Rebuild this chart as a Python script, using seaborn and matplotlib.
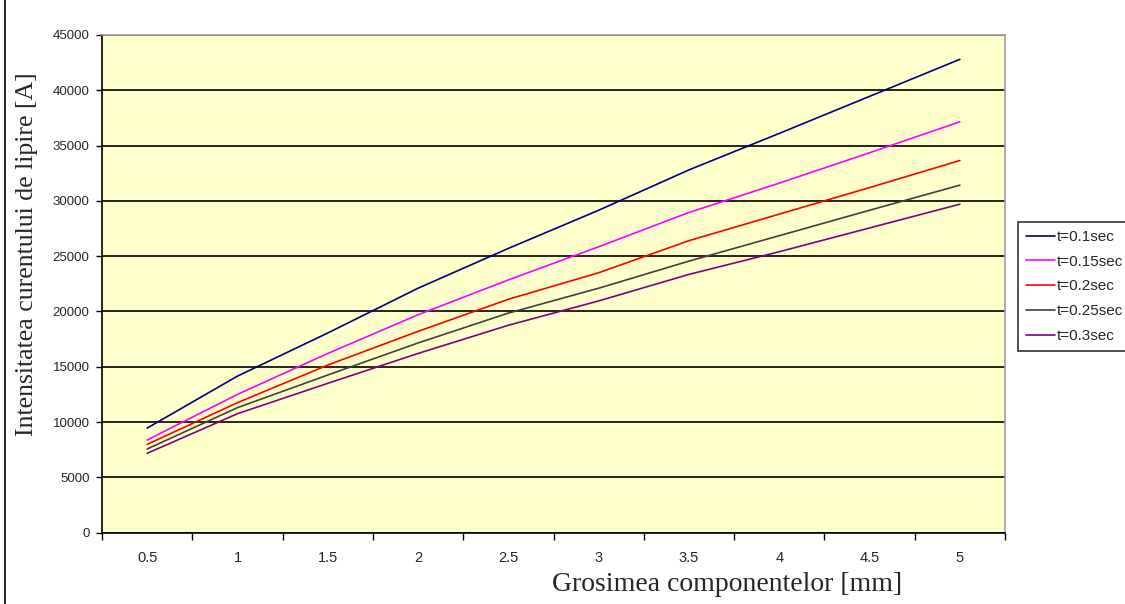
import numpy as np
import pandas as pd
import matplotlib
matplotlib.use("Agg")
import matplotlib.pyplot as plt
from matplotlib.lines import Line2D
import seaborn as sns

# --- datele ---
grosime = ["0.5", "1", "1.5", "2", "2.5", "3", "3.5", "4", "4.5", "5"]
serii = ["t=0.1sec", "t=0.15sec", "t=0.2sec", "t=0.25sec", "t=0.3sec"]
i_t01 = [9450, 14150, 18050, 22100, 25700, 29150, 32800, 36100, 39450, 42800]
i_t015 = [8370, 12500, 16200, 19700, 22850, 25850, 28950, 31600, 34350, 37150]
i_t02 = [7980, 11750, 15150, 18200, 21100, 23500, 26400, 28800, 31200, 33650]
i_t025 = [7560, 11300, 14250, 17150, 19850, 22100, 24550, 26850, 29150, 31420]
i_t03 = [7170, 10750, 13500, 16200, 18750, 20950, 23350, 25400, 27550, 29700]
culori = ["#000080", "#FF00FF", "#FF0000", "#404040", "#800080"]
y_ticks = list(range(0, 45001, 5000))

# ==============================================================================
# STIL
# ==============================================================================
sns.set_theme(style="white")
plt.rcParams["font.family"] = ["Liberation Sans", "DejaVu Sans"]

pos = np.arange(len(grosime))
df = pd.DataFrame({
    "pos": np.tile(pos, len(serii)),
    "serie": np.repeat(serii, len(grosime)),
    "curent": i_t01 + i_t015 + i_t02 + i_t025 + i_t03,
})

fig = plt.figure(figsize=(11.25, 6.04), dpi=100)
fig.patch.set_facecolor("white")
ax = fig.add_axes([102 / 1125, 1 - 532.6 / 604, 903 / 1125, 497.6 / 604])
ax.set_facecolor("#FFFFCC")

paleta = dict(zip(serii, culori))
sns.lineplot(data=df, x="pos", y="curent", hue="serie", hue_order=serii,
             palette=paleta, linewidth=1.2, ax=ax, legend=False)

# axa y
ax.set_ylim(0, 45000)
ax.set_yticks(y_ticks)
ax.set_yticklabels([str(v) for v in y_ticks], fontsize=9.5)
ax.tick_params(axis="y", which="major", direction="out", length=4,
               width=1, color="black", pad=5, left=True)
ax.yaxis.grid(True, color="black", linewidth=1.2)
ax.set_axisbelow(True)

# axa x (categorii, cu semne intre categorii)
ax.set_xlim(-0.5, len(grosime) - 0.5)
ax.set_xticks(np.arange(-0.5, len(grosime), 1.0))
ax.set_xticklabels([])
ax.set_xticks(pos, minor=True)
ax.set_xticklabels(grosime, minor=True, fontsize=10.5)
ax.tick_params(axis="x", which="major", direction="out", length=5,
               width=1, color="black", bottom=True)
ax.tick_params(axis="x", which="minor", length=0, pad=13, bottom=True)
ax.xaxis.grid(False)

for s in ["left", "bottom"]:
    ax.spines[s].set_color("black")
    ax.spines[s].set_linewidth(1.2)
for s in ["top", "right"]:
    ax.spines[s].set_color("#A0A0A0")
    ax.spines[s].set_linewidth(1.2)

ax.set_xlabel("Grosimea componentelor [mm]", family="Liberation Serif", fontsize=20)
ax.xaxis.set_label_coords(0.692, -0.079)
ax.set_ylabel("Intensitatea curentului de lipire [A]", family="Liberation Serif", fontsize=18.5)
ax.yaxis.set_label_coords(-0.071, 0.56)

handles = [Line2D([0], [0], color=c, linewidth=1.2) for c in culori]
leg = fig.legend(handles, serii, loc="upper left",
                 bbox_to_anchor=(1018 / 1125, 1 - 221.7 / 604),
                 fontsize=11, frameon=True, fancybox=False, borderaxespad=0,
                 borderpad=0.55, handlelength=1.9, handletextpad=0.1,
                 labelspacing=0.7)
leg.get_frame().set_edgecolor("black")
leg.get_frame().set_linewidth(1.2)
leg.get_frame().set_facecolor("white")

# chenarul graficului
fig.add_artist(Line2D([5 / 1125, 5 / 1125], [0, 1], transform=fig.transFigure,
                      color="black", linewidth=1.2))

fig.savefig("out.png", dpi=100)
